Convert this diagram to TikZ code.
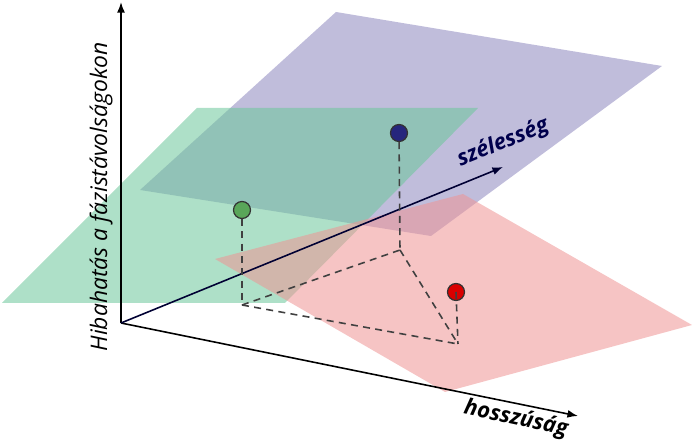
\documentclass[tikz,border=0pt]{standalone}
\usepackage{fontspec}
\setmainfont{Open Sans}
\usetikzlibrary{arrows.meta}
\definecolor{gplane}{HTML}{6CC79A}
\definecolor{pplane}{HTML}{8C86BE}
\definecolor{rplane}{HTML}{EE9494}
\begin{document}
\begin{tikzpicture}[x=0.02cm,y=-0.02cm,
  axis/.style={line width=0.9pt,-{Latex[length=6pt,width=4.5pt]}},
  proj/.style={dash pattern=on 4pt off 3pt,line width=0.9pt,color=black!75},
  ball/.style={circle,draw=black!80,line width=0.7pt,minimum size=17*0.02cm,inner sep=0pt},
  lbl/.style={font=\bfseries\itshape\fontsize{12.5}{14}\selectfont}]
\useasboundingbox (0,0) rectangle (694,445);
% planes
\fill[pplane,opacity=0.55] (140,190) -- (336,12) -- (662,66) -- (431,236) -- cycle;
\fill[gplane,opacity=0.55] (2,303) -- (197,108) -- (478,108) -- (285,303) -- cycle;
\fill[rplane,opacity=0.55] (215,259) -- (463,194) -- (692,325) -- (445,392) -- cycle;
% axes
\coordinate (O) at (121,323);
\coordinate (Y) at (121,2);
\coordinate (X) at (578,416);
\coordinate (Z) at (503,167);
\draw[axis] (O) -- (Y);
\draw[axis] (O) -- (X);
\draw[axis,color=black!80!blue] (O) -- (Z);
% projections
\coordinate (g0) at (242,305);
\coordinate (b0) at (400,250);
\coordinate (r0) at (458,344);
\node[ball,fill=green!30!gray] (g) at (242,210) {};
\node[ball,fill=blue!40!black!85!white] (b) at (399,133) {};
\node[ball,fill=red!85!black] (r) at (456,292) {};
\draw[proj] (g) -- (g0);
\draw[proj] (b) -- (b0);
\draw[proj] (r.center) -- (r0);
\draw[proj] (g0) -- (b0);
\draw[proj] (g0) -- (r0);
\draw[proj] (b0) -- (r0);
% labels
\node[lbl,rotate=90,font=\itshape\fontsize{13}{14}\selectfont] (ly) at (101,197) {Hibahatás a fázistávolságokon};
\node[lbl,rotate=22,color=blue!30!black] (lz) at (503,143) {szélesség};
\node[lbl,rotate=-12] (lx) at (516,419) {hosszúság};
\end{tikzpicture}
\end{document}
